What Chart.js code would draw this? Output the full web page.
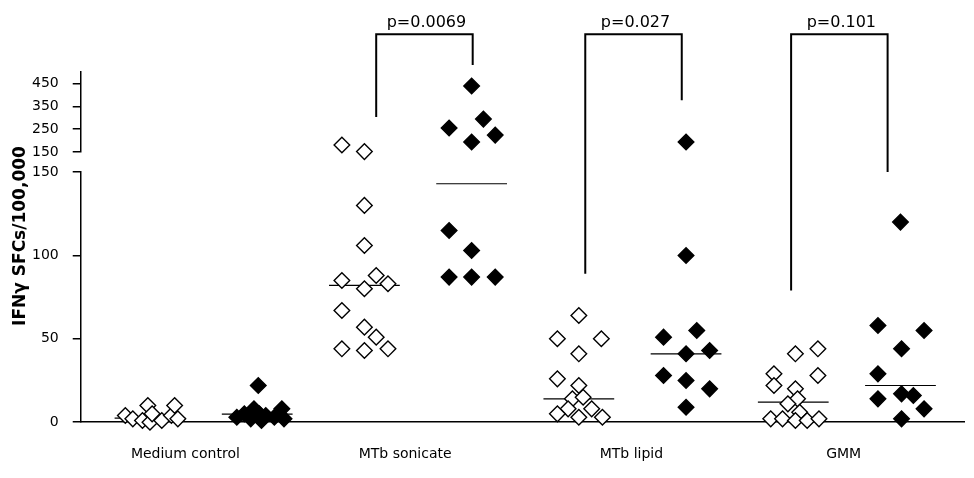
<!DOCTYPE html>
<html>
<head>
<meta charset="utf-8">
<script src="https://cdn.jsdelivr.net/npm/chart.js@4"></script>
<style>
  body { margin: 0; background: #fff; }
  #wrap { width: 974px; height: 478px; }
</style>
</head>
<body>
<div id="wrap"><canvas id="chart"></canvas></div>
<script>
// x categories (two columns per group: open = left, filled = right)
const groups = ['Medium control', 'MTb sonicate', 'MTb lipid', 'GMM'];
const groupLabelPos = [0.33, 2.38, 4.49, 6.47];

// values per column and horizontal jitter (in column units)
const mediumOpen    = [4, 2, 1, 10, 0, 5, 1, 4, 10, 2];
const mediumOpenX   = [-0.23, -0.16, -0.07, -0.02, 0, 0.02, 0.11, 0.2, 0.23, 0.26];
const mediumFilled  = [3, 5, 2, 8, 22, 5, 1, 4, 3, 8, 2];
const mediumFilledX = [-0.19, -0.12, -0.06, -0.03, 0.01, 0.02, 0.04, 0.08, 0.16, 0.23, 0.25];

const sonicateOpen    = [181, 152, 130, 106, 85, 88, 83, 80, 67, 57, 51, 44, 43, 44];
const sonicateOpenX   = [-0.21, 0, 0, 0, -0.21, 0.11, 0.22, 0, -0.21, 0, 0.11, -0.21, 0, 0.22];
const sonicateFilled  = [439, 294, 255, 224, 194, 115, 103, 87, 87, 87];
const sonicateFilledX = [0, 0.11, -0.21, 0.22, 0, -0.21, 0, -0.21, 0, 0.22];

const lipidOpen    = [64, 50, 50, 41, 26, 22, 14, 15, 8, 8, 5, 3, 3];
const lipidOpenX   = [0, -0.2, 0.21, 0, -0.2, 0, -0.06, 0.04, -0.1, 0.12, -0.2, 0, 0.22];
const lipidFilled  = [194, 100, 55, 51, 41, 43, 28, 25, 20, 9];
const lipidFilledX = [0, 0, 0.1, -0.21, 0, 0.22, -0.21, 0, 0.22, 0];

const gmmOpen    = [44, 41, 29, 28, 22, 20, 14, 11, 6, 2, 2, 1, 1, 2];
const gmmOpenX   = [0.23, 0.02, -0.18, 0.23, -0.18, 0.02, 0.04, -0.05, 0.06, -0.21, -0.1, 0.02, 0.13, 0.24];
const gmmFilled  = [120, 58, 55, 44, 29, 14, 17, 16, 8, 2];
const gmmFilledX = [0, -0.21, 0.22, 0.01, -0.21, -0.21, 0.01, 0.12, 0.22, 0.01];

const medians = [2.4, 4.8, 82, 143, 14, 41, 12, 22];

// significance brackets
const pLabels = ['p=0.0069', 'p=0.027', 'p=0.101'];
const bracketTop = 665;
const bracketLeftX = [2.11, 4.06, 5.98];
const bracketRightX = [3.01, 4.96, 6.88];
const bracketLeftEnd = [303, 89, 79];
const bracketRightEnd = [531, 377, 150];

// broken y axis
const BREAK = 150;
const yTicksLow = [0, 50, 100, 150];
const yTicksHigh = [150, 250, 350, 450];

const columns = [
  [mediumOpen, mediumOpenX], [mediumFilled, mediumFilledX],
  [sonicateOpen, sonicateOpenX], [sonicateFilled, sonicateFilledX],
  [lipidOpen, lipidOpenX], [lipidFilled, lipidFilledX],
  [gmmOpen, gmmOpenX], [gmmFilled, gmmFilledX]
];

function points(filled, high) {
  const out = [];
  columns.forEach(([vals, xs], i) => {
    if ((i % 2 === 1) !== filled) return;
    vals.forEach((v, k) => {
      if ((v > BREAK) === high) out.push({ x: i + xs[k], y: v });
    });
  });
  return out;
}

function diamonds(filled, high) {
  return {
    data: points(filled, high),
    yAxisID: high ? 'yTop' : 'yLow',
    pointStyle: 'rectRot',
    pointRadius: 7.8,
    pointBorderWidth: 1.4,
    pointBorderColor: '#000',
    pointBackgroundColor: filled ? '#000' : '#fff',
    showLine: false,
    clip: false,
    order: 1
  };
}

const medianSets = medians.map((m, i) => ({
  data: [{ x: i - 0.33, y: m }, { x: i + 0.33, y: m }],
  yAxisID: 'yLow',
  showLine: true,
  borderColor: '#000',
  borderWidth: 1.2,
  pointRadius: 0,
  order: 2
}));

const FONT = '"DejaVu Sans", sans-serif';
Chart.defaults.font.family = FONT;
Chart.defaults.color = '#000';

const annotations = {
  id: 'annotations',
  afterDatasetsDraw(chart) {
    const { ctx, scales: { x, yTop, yLow } } = chart;
    const yPix = v => v > BREAK ? yTop.getPixelForValue(v) : yLow.getPixelForValue(v);
    ctx.save();
    ctx.strokeStyle = '#000';
    ctx.fillStyle = '#000';
    ctx.lineWidth = 2;
    pLabels.forEach((label, i) => {
      const xl = x.getPixelForValue(bracketLeftX[i]);
      const xr = x.getPixelForValue(bracketRightX[i]);
      const yt = yTop.getPixelForValue(bracketTop);
      ctx.beginPath();
      ctx.moveTo(xl, yPix(bracketLeftEnd[i]));
      ctx.lineTo(xl, yt);
      ctx.lineTo(xr, yt);
      ctx.lineTo(xr, yPix(bracketRightEnd[i]));
      ctx.stroke();
      ctx.font = '16px ' + FONT;
      ctx.textAlign = 'center';
      ctx.textBaseline = 'bottom';
      ctx.fillText(label, (xl + xr) / 2 + 2, yt - 3);
    });
    // y axis title
    ctx.translate(21, 236);
    ctx.rotate(-Math.PI / 2);
    ctx.font = 'bold 17px ' + FONT;
    ctx.textAlign = 'center';
    ctx.textBaseline = 'middle';
    ctx.fillText('IFNγ SFCs/100,000', 0, 0);
    ctx.restore();
  }
};

const yCommon = {
  type: 'linear',
  position: 'left',
  stack: 'y',
  ticks: { font: { size: 14 }, padding: 14, color: '#000', autoSkip: false },
  grid: { drawOnChartArea: false, color: '#000', tickLength: 8, lineWidth: 1.5 },
  border: { color: '#000', width: 1.5 }
};

new Chart(document.getElementById('chart'), {
  type: 'scatter',
  data: {
    datasets: [
      diamonds(false, false), diamonds(false, true),
      diamonds(true, false), diamonds(true, true),
      ...medianSets
    ]
  },
  options: {
    responsive: true,
    maintainAspectRatio: false,
    animation: false,
    events: [],
    layout: { padding: { top: 72, left: 18, right: 0, bottom: -9 } },
    plugins: { legend: { display: false }, tooltip: { enabled: false } },
    scales: {
      x: {
        type: 'linear',
        min: -0.646,
        max: 7.6,
        afterBuildTicks: s => { s.ticks = groupLabelPos.map(v => ({ value: v })); },
        ticks: {
          callback: (v, i) => groups[i],
          font: { size: 14 },
          padding: 24,
          maxRotation: 0,
          autoSkip: false,
          color: '#000'
        },
        grid: { display: false, drawTicks: false },
        border: { color: '#000', width: 1.5 }
      },
      // stacked left axes: later entries are placed higher
      yLow: {
        ...yCommon,
        stackWeight: 250,
        min: 0,
        max: 150,
        afterBuildTicks: s => { s.ticks = yTicksLow.map(v => ({ value: v })); }
      },
      yGap: {
        type: 'linear',
        position: 'left',
        stack: 'y',
        stackWeight: 20,
        min: 0,
        max: 1,
        ticks: { display: false },
        grid: { display: false, drawTicks: false },
        border: { display: false }
      },
      yTop: {
        ...yCommon,
        stackWeight: 80,
        min: 150,
        max: 500,
        afterBuildTicks: s => { s.ticks = yTicksHigh.map(v => ({ value: v })); }
      }
    }
  },
  plugins: [annotations]
});
</script>
</body>
</html>
